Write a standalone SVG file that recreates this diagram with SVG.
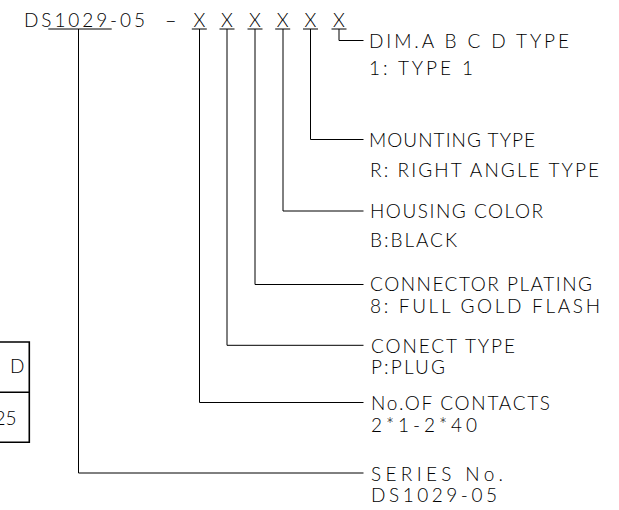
<svg xmlns="http://www.w3.org/2000/svg" width="619" height="510" viewBox="0 0 619 510">
<style>
text{font-family:Lato,"Liberation Sans",Arial,sans-serif;font-weight:300;font-size:19px;fill:#000}
.ln{fill:none;stroke:#000;stroke-width:1}
.tb{fill:none;stroke:#000;stroke-width:1.6}
</style>
<rect width="619" height="510" fill="#fff"/>
<g id="title">
<text x="24" y="26.7" textLength="121" lengthAdjust="spacing">DS1029-05</text>
<text x="164.5" y="26.7" textLength="12.5" lengthAdjust="spacingAndGlyphs">-</text>
<g text-anchor="middle">
<text x="199.3" y="26.7">X</text>
<text x="227" y="26.7">X</text>
<text x="255" y="26.7">X</text>
<text x="282.7" y="26.7">X</text>
<text x="310.5" y="26.7">X</text>
<text x="339" y="26.7">X</text>
</g>
<path class="ln" d="M48.3 29H111.7M191.8 29H206.8M219.5 29H234.5M247.5 29H262.5M275.2 29H290.2M303 29H318M331.5 29H346.5"/>
</g>
<g id="table">
<path class="tb" d="M0 342H29.3V442.3H0M0 392.3H29.3"/>
<text x="24.5" y="373.3" text-anchor="end">D</text>
<text x="16.5" y="425" text-anchor="end">25</text>
</g>
<g id="connectors">
<path class="ln" d="M339 29V40.5H363.5"/>
<path class="ln" d="M310.5 29V139.5H363.5"/>
<path class="ln" d="M283 29V211H363.5"/>
<path class="ln" d="M255 29V284.5H363.5"/>
<path class="ln" d="M227 29V345.3H363.5"/>
<path class="ln" d="M199.5 29V402.5H363.5"/>
<path class="ln" d="M78.5 29V473H363.5"/>
</g>
<g id="dim-type">
<text x="369" y="48" textLength="200">DIM.A B C D TYPE</text>
<text x="369" y="75" textLength="104">1: TYPE 1</text>
</g>
<g id="mounting-type">
<text x="369" y="146.7" textLength="166">MOUNTING TYPE</text>
<text x="370" y="176.7" textLength="229">R: RIGHT ANGLE TYPE</text>
</g>
<g id="housing-color">
<text x="370" y="217.5" textLength="173">HOUSING COLOR</text>
<text x="370" y="246.7" textLength="87">B:BLACK</text>
</g>
<g id="connector-plating">
<text x="370" y="291" textLength="222">CONNECTOR PLATING</text>
<text x="370" y="312.5" textLength="230">8: FULL GOLD FLASH</text>
</g>
<g id="conect-type">
<text x="371" y="352.8" textLength="144">CONECT TYPE</text>
<text x="371" y="374.3" textLength="74">P:PLUG</text>
</g>
<g id="contacts">
<text x="371" y="410" textLength="179">No.OF CONTACTS</text>
<text x="371" y="431.7" textLength="106">2*1-2*40</text>
</g>
<g id="series">
<text x="371" y="480.5" textLength="132">SERIES No.</text>
<text x="371" y="502" textLength="126">DS1029-05</text>
</g>
</svg>
